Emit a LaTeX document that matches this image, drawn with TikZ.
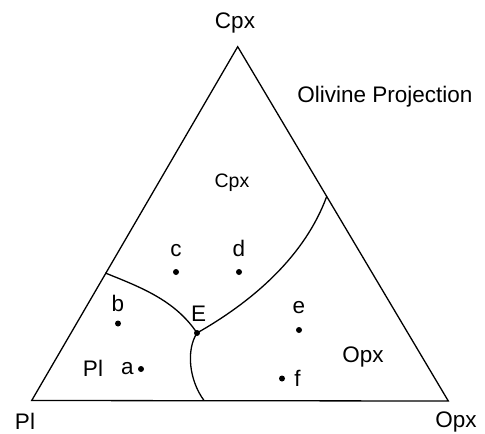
\documentclass[tikz,border=0pt]{standalone}
\usepackage{fontspec}
\setmainfont{Liberation Sans}
\usetikzlibrary{positioning}

\begin{document}
\begin{tikzpicture}[x=1pt,y=-1pt,line width=1.3pt,
  lbl/.style={font=\fontsize{22.5}{26}\selectfont,inner sep=0pt},
  dot/.style={circle,fill,inner sep=0pt,minimum size=6pt}]
  \useasboundingbox (0,0) rectangle (485,434);
  \coordinate (cpx) at (237.7,46.7);
  \coordinate (pl) at (31.7,400.5);
  \coordinate (opx) at (448.3,401);
  \draw (cpx) -- (pl) -- (opx) -- cycle;
  \node[lbl] (tcpx) at (235,23) {Cpx};
  \node[lbl] (tpl) at (25,421) {Pl};
  \node[lbl] (topx) at (456,422) {Opx};
  \node[lbl] (title) at (385,97) {Olivine Projection};
  \coordinate (bl) at (105.3,273);
  \coordinate (br) at (326.5,197);
  \coordinate (bb) at (204,400.5);
  \node[dot] (E) at (197,333) {};
  \draw (bl) .. controls (140,287) and (175,300) .. (E.center);
  \draw (E.center) .. controls (255,300) and (305,255) .. (br);
  \draw (E.center) .. controls (186,350) and (189,380) .. (bb);
  \node[lbl,above right=8pt and -9pt of E] (lE) {E};
  \node[lbl,font=\fontsize{19.5}{23}\selectfont] (rcpx) at (232,183) {Cpx};
  \node[lbl] (rpl) at (93,368) {Pl};
  \node[lbl] (ropx) at (363,357) {Opx};
  \node[dot] (c) at (176,272) {};
  \node[dot] (d) at (239,272) {};
  \node[dot] (b) at (118,323.5) {};
  \node[dot] (a) at (141,369) {};
  \node[dot] (e) at (299,330) {};
  \node[dot] (f) at (282,378.5) {};
  \node[lbl,above=11pt of c] (lc) {c};
  \node[lbl,above=11pt of d] (ld) {d};
  \node[lbl,above=7pt of b] (lb) {b};
  \node[lbl,left=3pt of a] (la) {a};
  \node[lbl,above=12pt of e] (le) {e};
  \node[lbl,right=8pt of f] (lf) {f};
\end{tikzpicture}
\end{document}
